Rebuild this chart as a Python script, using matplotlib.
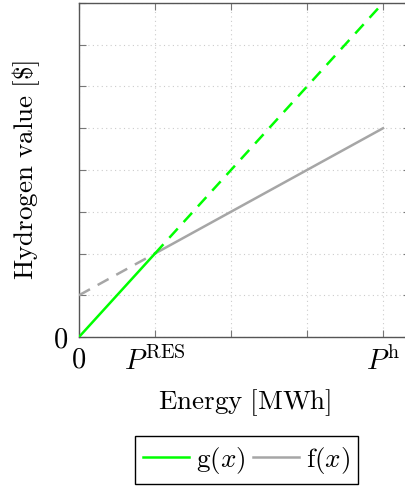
import numpy as np
import matplotlib.pyplot as plt

plt.rcParams['mathtext.fontset'] = 'cm'
plt.rcParams['font.family'] = 'serif'
plt.rcParams['font.serif'] = ['DejaVu Serif']

# piecewise points (x in units of grid, P_RES = 1, P_h = 4)
x_res = [0, 1]
x_hi = [1, 4]
g_res = [0, 2]
g_hi = [2, 8]
f_res = [1, 2]
f_hi = [2, 5]

xticks = [0, 1, 2, 3, 4]
xtick_labels = [r'$0$', r'$P^{\mathrm{RES}}$', '', '', r'$P^{\mathrm{h}}$']
yticks = [0, 1, 2, 3, 4, 5, 6, 7, 8]
ytick_labels = [r'$0$'] + [''] * 8

green = '#00ff00'
grey = '#a6a6a6'

fig = plt.figure(figsize=(4.06, 4.86), dpi=100)
W, H = 406, 486
ax = fig.add_axes([79 / W, 1 - 337 / H, 331 / W, 334 / H])

ax.plot(x_res, g_res, color=green, lw=1.8, label=r'$\mathrm{g}(x)$', zorder=4)
ax.plot(x_hi, g_hi, color=green, lw=1.8, ls=(0, (5, 3.5)), zorder=4)
ax.plot(x_res, f_res, color=grey, lw=1.8, ls=(0, (5, 3.5)), zorder=3)
ax.plot(x_hi, f_hi, color=grey, lw=1.8, label=r'$\mathrm{f}(x)$', zorder=3)

ax.set_xlim(0, 331 / 76)
ax.set_ylim(0, 8)
ax.set_xticks(xticks)
ax.set_xticklabels(xtick_labels, fontsize=20.5)
ax.set_yticks(yticks)
ax.set_yticklabels(ytick_labels, fontsize=20.5)
ax.tick_params(direction='in', length=5, color='#777777', width=0.8,
               top=True, right=True)
ax.tick_params(axis='x', pad=7)
ax.tick_params(axis='y', pad=8)
ax.grid(True, ls=(0, (1, 3)), color='#cccccc', lw=0.8)
for s in ax.spines.values():
    s.set_color('#555555')
    s.set_linewidth(1.0)

ax.set_xlabel(r'$\mathrm{Energy\ [MWh]}$', fontsize=19.5, labelpad=8)
ax.set_ylabel(r'$\mathrm{Hydrogen\ value\ [\$]}$', fontsize=19.5, labelpad=8)

fig.legend(loc='center', bbox_to_anchor=(246.5 / W, 1 - 460 / H), ncol=2,
           fontsize=19.5, fancybox=False, edgecolor='black', framealpha=1,
           handlelength=1.7, columnspacing=0.3, handletextpad=0.25,
           borderpad=0.3)

fig.savefig('out.png', dpi=100)
